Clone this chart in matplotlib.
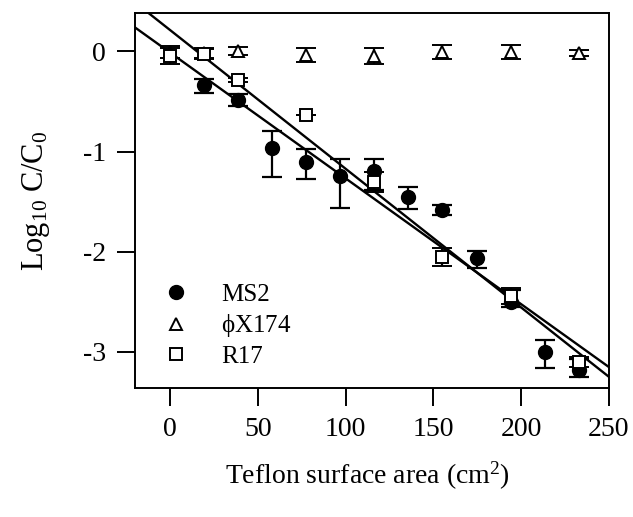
import numpy as np
import matplotlib
matplotlib.use('Agg')
import matplotlib.pyplot as plt

plt.rcParams['font.family'] = ['Liberation Serif', 'DejaVu Serif']
plt.rcParams['mathtext.fontset'] = 'custom'
plt.rcParams['mathtext.rm'] = 'Liberation Serif'
plt.rcParams['mathtext.it'] = 'Liberation Serif:italic'

# MS2 (filled circles), bars given as lower / upper ends
ms2_x = [19.4, 38.8, 58.2, 77.6, 97.0, 116.4, 135.8, 155.2, 174.6, 194.0, 213.4, 232.8]
ms2_y = [-0.34, -0.49, -0.96, -1.10, -1.24, -1.19, -1.45, -1.58, -2.06, -2.50, -3.00, -3.18]
ms2_lo = [-0.42, -0.55, -1.25, -1.27, -1.56, -1.38, -1.57, -1.63, -2.16, -2.55, -3.16, -3.25]
ms2_hi = [-0.28, -0.43, -0.79, -0.97, -1.07, -1.07, -1.35, -1.53, -1.99, -2.38, -2.88, -3.07]

# phiX174 (open triangles)
phi_x = [0.0, 19.4, 38.8, 77.6, 116.4, 155.2, 194.0, 232.8]
phi_y = [-0.01, -0.02, 0.0, -0.04, -0.05, -0.01, -0.01, -0.02]
phi_err = [0.06, 0.05, 0.04, 0.07, 0.08, 0.07, 0.07, 0.03]

# R17 (open squares)
r17_x = [0.0, 19.4, 38.8, 77.6, 116.4, 155.2, 194.0, 232.8]
r17_y = [-0.05, -0.03, -0.29, -0.63, -1.30, -2.05, -2.44, -3.10]
r17_err = [0.08, 0.05, 0.02, 0.0, 0.10, 0.09, 0.08, 0.05]

# regression lines (slope, intercept)
fit_slope = [-0.01385, -0.01256]
fit_icpt = [0.214, -0.011]

fig = plt.figure(figsize=(6.33, 5.17), dpi=100)
ax = fig.add_axes([0.213, 0.2495, 0.749, 0.7255])

xl = np.array([-20, 250])
for m, b in zip(fit_slope, fit_icpt):
    ax.plot(xl, m * xl + b, color='black', lw=1.7, zorder=2)

ms2_x = np.array(ms2_x)
ms2_y = np.array(ms2_y)
yerr_ms2 = [ms2_y - np.array(ms2_lo), np.array(ms2_hi) - ms2_y]
ax.errorbar(ms2_x, ms2_y, yerr=yerr_ms2, fmt='o', color='black', ms=10,
            capsize=7.5, elinewidth=1.6, capthick=1.6, zorder=3, label='MS2')
ax.errorbar(phi_x, phi_y, yerr=phi_err, fmt='^', color='black', mfc='white', mec='black',
            ms=8.5, mew=1.4, capsize=7.5, elinewidth=1.6, capthick=1.6, zorder=4,
            label=r'$\mathrm{\phi}$X174')
ax.errorbar(r17_x, r17_y, yerr=r17_err, fmt='s', color='black', mfc='white', mec='black',
            ms=8, mew=1.4, capsize=7.5, elinewidth=1.6, capthick=1.6, zorder=5, label='R17')

ax.set_xlim(-20, 250)
ax.set_ylim(-3.36, 0.384)
ax.set_xticks([0, 50, 100, 150, 200, 250])
ax.set_yticks([0, -1, -2, -3])
ax.set_yticklabels(['0', '-1', '-2', '-3'])
ax.tick_params(axis='both', direction='out', length=13, width=1.4, labelsize=20)
ax.tick_params(axis='x', pad=8)
ax.tick_params(axis='y', pad=8)
for s in ax.spines.values():
    s.set_linewidth(1.4)

ax.set_xlabel('Teflon surface area (cm$^2$)', fontsize=20)
ax.set_ylabel('Log$_{10}$ C/C$_0$', fontsize=22)
ax.xaxis.set_label_coords(0.49, -0.19)
ax.yaxis.set_label_coords(-0.175, 0.5)

handles, labels = ax.get_legend_handles_labels()
handles = [h[0] for h in handles]
leg = ax.legend(handles, labels, loc='upper left', bbox_to_anchor=(0.04, 0.305),
                frameon=False, fontsize=18, handlelength=1.0, handletextpad=1.3,
                labelspacing=0.25, borderaxespad=0)

fig.savefig('out.png', dpi=100)
